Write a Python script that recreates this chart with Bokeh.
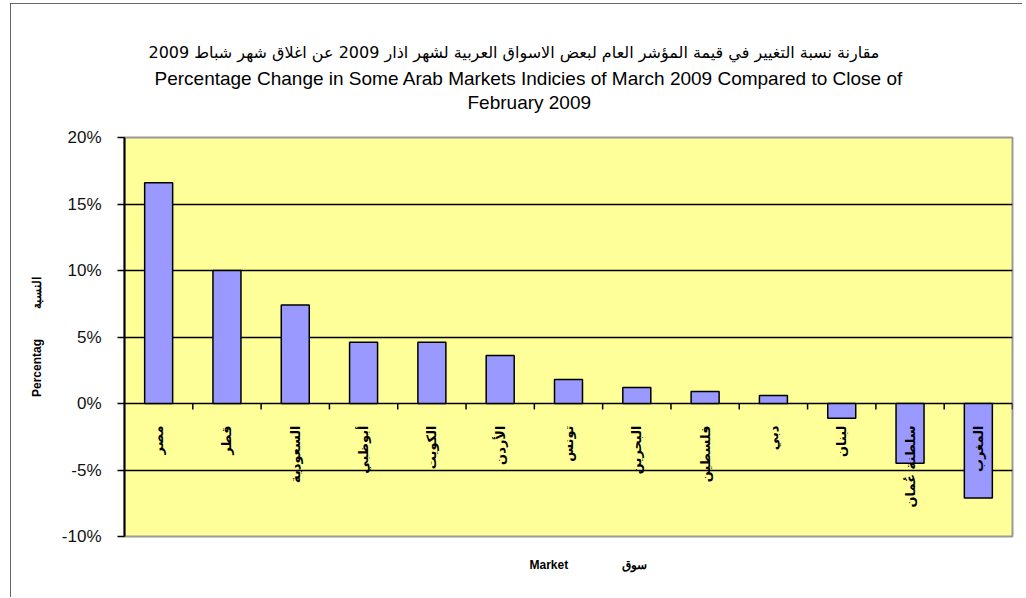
import numpy as np
from bokeh.plotting import figure
from bokeh.models import Range1d, FixedTicker, NumeralTickFormatter, Title, ColumnDataSource
from bokeh.core.properties import value
from bokeh.embed import file_html
from bokeh.resources import INLINE

# ---- data ----
markets = ["مصر", "قطر", "السعودية", "أبوظبي", "الكويت", "الأردن", "تونس",
           "البحرين", "فلسطين", "دبي", "لبنان", "سلطنة عُمان", "المغرب"]
changes = [0.166, 0.100, 0.074, 0.046, 0.046, 0.036, 0.018,
           0.012, 0.009, 0.006, -0.011, -0.045, -0.071]
y_ticks = [-0.10, -0.05, 0.0, 0.05, 0.10, 0.15, 0.20]

title_ar = "مقارنة نسبة التغيير في قيمة المؤشر العام لبعض الاسواق العربية لشهر اذار 2009  عن اغلاق شهر شباط 2009"
title_en1 = "Percentage Change in Some Arab Markets Indicies of March 2009  Compared to Close  of"
title_en2 = "February 2009"
ylab_en = "Percentag"
ylab_ar = "النسبة"
xlab_en = "Market"
xlab_ar = "سوق"

n = len(markets)
xs = np.arange(n) + 0.5
NB = "\u00a0"

p = figure(frame_width=888, frame_height=399,
           min_border_left=114, min_border_right=10,
           min_border_top=134, min_border_bottom=61,
           x_range=Range1d(0, n), y_range=Range1d(-0.10, 0.20),
           output_backend="svg", toolbar_location=None,
           x_axis_type=None)
p.styles = {"margin-left": "10px", "margin-top": "3px",
            "outline": "1.5px solid #333", "outline-offset": "-1px"}

p.background_fill_color = "#FFFF99"
p.border_fill_color = "white"
p.outline_line_color = "#9a9a9a"
p.outline_line_width = 2

p.xgrid.visible = False
p.ygrid.ticker = FixedTicker(ticks=y_ticks)
p.ygrid.grid_line_color = "black"
p.ygrid.grid_line_width = 1.5

ya = p.yaxis[0]
ya.ticker = FixedTicker(ticks=y_ticks)
ya.formatter = NumeralTickFormatter(format="0%")
ya.axis_line_color = "black"
ya.axis_line_width = 2
ya.major_tick_out = 7
ya.major_tick_in = 0
ya.major_tick_line_width = 1.5
ya.minor_tick_line_color = None
ya.major_label_text_font = "Liberation Sans"
ya.major_label_text_font_size = "17px"
ya.major_label_text_color = "#111"
ya.major_label_standoff = 16
ya.axis_label = ylab_en + NB * 9 + ylab_ar
ya.axis_label_text_font = "Liberation Sans"
ya.axis_label_text_font_size = "12px"
ya.axis_label_text_font_style = "bold"
ya.axis_label_text_color = "black"
ya.axis_label_standoff = 15

src = ColumnDataSource(dict(x=xs, top=changes, name=markets))
p.vbar(x="x", top="top", width=0.41, source=src,
       fill_color="#9999FF", line_color="black", line_width=1.5)

# category ticks on the zero line
bounds = np.arange(1, n + 1)
p.segment(x0=bounds, y0=np.zeros(n), x1=bounds, y1=np.full(n, -0.0045),
          line_color="black", line_width=1.5)

# category labels (rotated) below zero line
p.text(x="x", y=0, text="name", source=src, angle=np.pi / 2,
       y_offset=22, text_align="right", text_baseline="middle",
       text_font=value("DejaVu Sans"), text_font_size="13px",
       text_font_style="bold", text_color="black")

# titles: added nearest-first
def title(txt, side, offset, size, style="normal", font="Liberation Sans", standoff=0):
    t = Title(text=txt, align="left", offset=offset, text_font=font,
              text_font_size=size, text_font_style=style, text_color="black",
              standoff=standoff)
    p.add_layout(t, side)

title(" ", "above", 0, "21px")
title(title_en2, "above", 343, "19px")
title(title_en1, "above", 30, "19px", standoff=2)
title(title_ar, "above", 24, "16px", font="DejaVu Sans", standoff=6)

title(" ", "below", 0, "16px")
title(xlab_en + NB * 16 + xlab_ar, "below", 405, "12px", style="bold")

open("out.html", "w").write(file_html(p, INLINE))
